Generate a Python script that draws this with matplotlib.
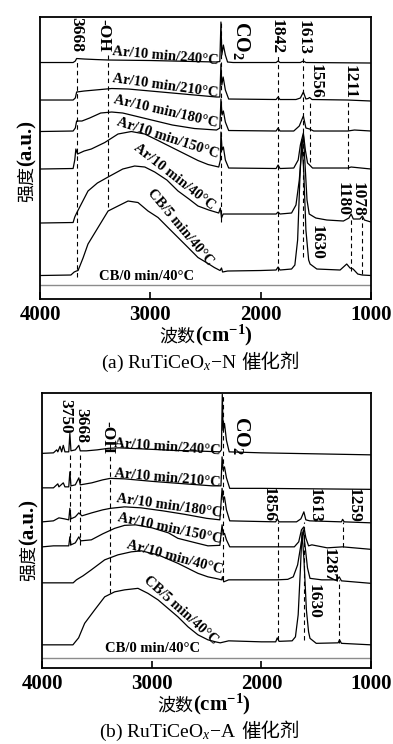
import matplotlib
matplotlib.use("Agg")
import matplotlib.pyplot as plt

plt.rcParams['font.family'] = ['Liberation Serif', 'Noto Sans CJK SC']
plt.rcParams['mathtext.fontset'] = 'custom'
plt.rcParams['mathtext.rm'] = 'Liberation Serif'
plt.rcParams['mathtext.it'] = 'Liberation Serif:italic'
plt.rcParams['mathtext.bf'] = 'Liberation Serif:bold'

# ---------- (a) RuTiCeOx-N : stacked DRIFT spectra (a.u., offset) ----------
a240_wn = [4000, 3700, 3680, 3668, 3600, 3500, 3380, 3000, 2600, 2400, 2370, 2360, 2352, 2338, 2320,
           2300, 2250, 1860, 1842, 1825, 1640, 1613, 1590, 1000]
a240_y = [236.5, 236.5, 238, 240.5, 240, 239.5, 239, 238.5, 237.5, 237, 237.5, 277, 244, 254, 244,
          237, 236.5, 236.5, 238, 236.5, 236.5, 238, 236.5, 236]

a210_wn = [4000, 3700, 3680, 3668, 3600, 3450, 3350, 3200, 3000, 2700, 2400, 2370, 2360, 2352, 2340,
           2320, 2290, 1860, 1842, 1825, 1680, 1640, 1613, 1590, 1570, 1556, 1535, 1211, 1000]
a210_y = [199, 199, 201, 207, 208, 209.5, 210.5, 210, 208, 205, 202, 202, 235, 214, 222,
          209, 200, 199.5, 202, 199.5, 199.5, 201, 207, 200, 200.5, 201.5, 199.5, 199, 198]

a180_wn = [4000, 3700, 3680, 3668, 3620, 3550, 3450, 3350, 3250, 3100, 2950, 2800, 2600, 2400, 2370,
           2360, 2350, 2338, 2320, 2290, 1860, 1842, 1825, 1700, 1650, 1613, 1590, 1556, 1520, 1211,
           1150, 1000]
a180_y = [167.5, 168, 171, 178, 178, 181, 186, 187, 186, 182, 178, 174, 170.5, 169, 171,
          200, 184, 188, 177, 168.5, 168, 171, 168, 168, 173, 183, 171, 170, 168, 168,
          169, 168]

a150_wn = [4000, 3700, 3685, 3675, 3660, 3600, 3535, 3413, 3293, 3172, 3051, 2930, 2749, 2568, 2477,
           2380, 2365, 2360, 2350, 2338, 2320, 2290, 1860, 1842, 1825, 1700, 1660, 1640, 1613, 1595,
           1575, 1556, 1530, 1211, 1180, 1000]
a150_y = [130, 130.5, 139, 150, 145, 148, 150, 156.5, 165, 167.5, 165, 158.5, 148.5, 138.5, 134.5,
          132, 139, 167, 149, 152, 139, 131, 130.5, 134, 130.5, 131, 139, 154, 166, 149,
          136, 134, 131, 131, 132, 130]

a40_wn = [4000, 3700, 3685, 3668, 3565, 3480, 3383, 3250, 3142, 3050, 2960, 2850, 2749, 2650, 2568,
          2470, 2380, 2365, 2355, 2340, 2300, 1860, 1842, 1825, 1720, 1680, 1650, 1625, 1613, 1600,
          1580, 1560, 1500, 1400, 1250, 1200, 1180, 1160, 1100, 1078, 1060, 1000]
a40_y = [76, 76.5, 82, 86, 108, 116, 122, 130, 133, 132, 127, 119, 108, 100, 93,
         89, 86, 91, 81, 85, 85, 85, 87, 85, 86, 94, 119, 154, 164, 139,
         99, 85, 81, 79, 78, 81, 85, 80, 80, 83, 79, 77]

acb5_wn = [4000, 3720, 3690, 3670, 3655, 3610, 3565, 3474, 3383, 3293, 3202, 3112, 3021, 2930, 2840,
           2749, 2658, 2568, 2477, 2420, 2368, 2355, 2345, 2300, 2000, 1860, 1842, 1825, 1720, 1690,
           1665, 1645, 1628, 1610, 1590, 1565, 1552, 1491, 1280, 1240, 1220, 1190, 1162, 1120, 1080,
           1000]
acb5_y = [23.5, 24, 27, 28, 28.5, 41, 55, 71.5, 88, 93, 98, 96.5, 88, 81.5, 71.5,
          61.5, 51.5, 41.5, 35.5, 31.5, 28.5, 31, 27, 28, 28.5, 29, 32, 29, 30, 34,
          59, 119, 159, 129, 69, 39, 35, 30, 29, 33, 35, 31, 30, 25, 24,
          23.5]

acb0_wn = [4000, 1000]
acb0_y = [14, 14]

a_names = ["Ar/10 min/240°C", "Ar/10 min/210°C", "Ar/10 min/180°C", "Ar/10 min/150°C",
           "Ar/10 min/40°C", "CB/5 min/40°C", "CB/0 min/40°C"]
a_peaks = ["3668", "-OH", r"CO$_\mathbf{2}$", "1842", "1613", "1556", "1211", "1180", "1078", "1630"]
a_dash_wn = [3668, 3383, 2359, 1842, 1613, 1556, 1211, 1180, 1078]

# ---------- (b) RuTiCeOx-A ----------
b240_wn = [4000, 3900, 3870, 3860, 3840, 3825, 3810, 3795, 3760, 3750, 3740, 3700, 3668, 3655, 3600,
           3500, 3400, 3300, 3100, 2800, 2500, 2380, 2366, 2358, 2350, 2338, 2320, 2295, 2000, 1500,
           1000]
b240_y = [215, 215.5, 218.5, 216.5, 222, 216.5, 223, 216.5, 216.5, 235, 217.5, 218.5, 223, 217.5, 217.5,
          218.5, 220, 220.5, 219.5, 218, 217, 216.5, 218.5, 274, 238, 245, 228, 216.5, 215.5, 214.5,
          213.5]

b210_wn = [4000, 3900, 3860, 3850, 3810, 3795, 3760, 3750, 3740, 3700, 3668, 3655, 3550, 3450, 3380,
           3250, 3000, 2700, 2450, 2370, 2360, 2350, 2338, 2320, 2290, 2000, 1000]
b210_y = [180.5, 180.5, 184.5, 181.5, 185.5, 181.5, 181.5, 196.5, 182.5, 183.5, 190.5, 183.5, 185.5, 188.5, 190,
          189.5, 187, 184.5, 182.5, 182.5, 211.5, 198.5, 201.5, 190.5, 180, 180, 179]

b180_wn = [4000, 3900, 3850, 3800, 3760, 3750, 3740, 3700, 3668, 3640, 3550, 3450, 3380, 3250, 3100,
           2900, 2700, 2500, 2380, 2360, 2350, 2338, 2320, 2290, 1870, 1856, 1840, 1680, 1640, 1613,
           1595, 1560, 1270, 1259, 1245, 1000]
b180_y = [146.5, 147.5, 150.5, 149.5, 148.5, 160, 149.5, 151.5, 155.5, 152.5, 155.5, 158.5, 160, 161.5, 160.5,
          157.5, 154, 150, 148.5, 180, 168.5, 171.5, 158.5, 147.5, 146.5, 149.5, 146.5, 146.5, 149.5, 156.5,
          148.5, 147.5, 146.5, 149, 146.5, 145.5]

b150_wn = [4000, 3900, 3760, 3750, 3740, 3700, 3668, 3650, 3554, 3450, 3341, 3250, 3150, 3000, 2850,
           2763, 2600, 2489, 2380, 2360, 2350, 2338, 2320, 2290, 1860, 1700, 1660, 1635, 1613, 1595,
           1570, 1540, 1400, 1259, 1000]
b150_y = [121.5, 122.5, 122.5, 131.5, 123.5, 125.5, 131.5, 127.5, 128.5, 134.5, 140, 143, 143.5, 140.5, 135.5,
          130, 125.5, 122.5, 123, 143.5, 133.5, 135, 128.5, 121.5, 121.5, 121.5, 126.5, 138.5, 141.5, 130.5,
          122.5, 123.5, 120.5, 121.5, 119]

b40_wn = [4000, 3720, 3690, 3668, 3630, 3554, 3432, 3311, 3189, 3098, 2945, 2763, 2580, 2489, 2400,
          2364, 2356, 2345, 2300, 1860, 1760, 1710, 1670, 1640, 1618, 1600, 1580, 1557, 1450, 1310,
          1290, 1270, 1000]
b40_y = [85.5, 85.5, 88.5, 90, 92.5, 98.5, 108.5, 113.5, 116.5, 117.5, 113.5, 105, 95, 91.5, 89.5,
         88.5, 91.5, 86.5, 88.5, 88.5, 89, 91.5, 103.5, 123.5, 138.5, 120.5, 100.5, 90, 88.5, 88.5,
         91.5, 87.5, 85]

bcb5_wn = [4000, 3722, 3700, 3670, 3615, 3523, 3432, 3341, 3249, 3128, 3037, 2945, 2854, 2763, 2671,
           2580, 2489, 2420, 2377, 2300, 2000, 1870, 1856, 1840, 1720, 1690, 1665, 1645, 1630, 1612,
           1590, 1570, 1557, 1500, 1300, 1287, 1270, 1000]
bcb5_y = [23.5, 23.5, 26.5, 30.5, 45, 58.5, 71.5, 76.5, 78.5, 80, 75, 68.5, 60, 51.5, 41.5,
          33.5, 28.5, 26.5, 25.5, 27.5, 26.5, 26.5, 30.5, 27, 27.5, 31.5, 53.5, 98.5, 136, 108.5,
          58.5, 36.5, 30, 25, 25.5, 28.5, 25, 23.5]

bcb0_wn = [4000, 1000]
bcb0_y = [10, 10]

b_names = a_names
b_peaks = ["3750", "3668", "-OH", r"CO$_\mathbf{2}$", "1856", "1613", "1259", "1287", "1630"]
b_dash_wn = [3746, 3660, 3386, 2349, 1852, 1613, 1253, 1290]

xticks = [4000, 3000, 2000, 1000]
captions = [r"(a) RuTiCeO$_{x}$−N", r"(b) RuTiCeO$_{x}$−A"]
caption_cn = "催化剂"

fig = plt.figure(figsize=(3.93, 7.44), dpi=100)
ax_a = fig.add_axes([0.1018, 0.5981, 0.8422, 0.3797])
ax_b = fig.add_axes([0.1081, 0.1017, 0.8359, 0.3704])

bold = dict(fontweight='bold', family='Liberation Serif')


def setup(ax, ytop, ylab_pos, xlab_pos):
    ax.set_xlim(4000, 1000)
    ax.set_ylim(0, ytop)
    ax.set_yticks([])
    ax.set_xticks(xticks)
    ax.set_xticklabels([str(t) for t in xticks], fontsize=15, fontweight='bold')
    ax.tick_params(axis='x', direction='in', length=5, width=1.2, pad=4)
    for s in ax.spines.values():
        s.set_linewidth(1.3)
    # y label: Chinese part regular, latin part bold
    ax.text(ylab_pos[0], ylab_pos[1], "强度", transform=ax.transAxes, rotation=90,
            rotation_mode='anchor', ha='right', va='baseline', fontsize=13,
            family='Noto Sans CJK SC')
    ax.text(ylab_pos[0], ylab_pos[1], "(a.u.)", transform=ax.transAxes, rotation=90,
            rotation_mode='anchor', ha='left', va='baseline', fontsize=15, **bold)
    ax.text(xlab_pos[0], xlab_pos[1], "波数", transform=ax.transAxes, ha='right',
            va='baseline', fontsize=13, family='Noto Sans CJK SC')
    ax.text(xlab_pos[0], xlab_pos[1], r"(cm$^{\mathbf{-1}}$)", transform=ax.transAxes,
            ha='left', va='baseline', fontsize=15, **bold)


def dashes(ax, wns, tops, bots):
    for w, t, b in zip(wns, tops, bots):
        ax.plot([w, w], [b, t], color='black', lw=0.8, ls=(0, (4, 3)))


# ---- panel (a)
setup(ax_a, 282.5, (-0.024, 0.471), (0.468, -0.149))
for wn, y in [(a240_wn, a240_y), (a210_wn, a210_y), (a180_wn, a180_y), (a150_wn, a150_y),
              (a40_wn, a40_y), (acb5_wn, acb5_y)]:
    ax_a.plot(wn, y, color='black', lw=0.9)
ax_a.plot(acb0_wn, acb0_y, color='#8c8c8c', lw=1.0)
dashes(ax_a, a_dash_wn, [238, 244, 279, 243, 244, 199, 199, 82, 82],
       [22, 92, 77, 28, 42, 137, 130, 28, 25])

a_lab_pos = [(2867, 243, -5), (2867, 213, -8), (2858, 187, -13), (2840, 161, -18),
             (2785, 122, -38), (2731, 72, -50), (3030, 23, 0)]
for name, (x, y, r) in zip(a_names, a_lab_pos):
    ax_a.text(x, y, name, rotation=r, ha='center', va='center', fontsize=10.5, **bold)

a_peak_pos = [(3674, 264), (3429, 264), (2170, 259), (1852, 262), (1610, 262), (1498, 218),
              (1190, 217), (1258, 100), (1122, 100), (1489, 57)]
for name, (x, y) in zip(a_peaks, a_peak_pos):
    fs = 14.5 if 'CO' in name else 12.5
    ax_a.text(x, y, name, rotation=270, ha='center', va='center', fontsize=fs, **bold)

# ---- panel (b)
setup(ax_b, 275.6, (-0.026, 0.447), (0.458, -0.154))
for wn, y in [(b240_wn, b240_y), (b210_wn, b210_y), (b180_wn, b180_y), (b150_wn, b150_y),
              (b40_wn, b40_y), (bcb5_wn, bcb5_y)]:
    ax_b.plot(wn, y, color='black', lw=0.9)
ax_b.plot(bcb0_wn, bcb0_y, color='#8c8c8c', lw=1.0)
dashes(ax_b, b_dash_wn, [215, 215, 213, 273, 146, 146, 146, 88],
       [123, 123, 75, 88, 28, 28, 121, 25])

b_lab_pos = [(2863, 221, -4), (2863, 190, -5), (2845, 162, -8), (2836, 140, -12),
             (2790, 111, -15), (2735, 58, -42), (2991, 20, 0)]
for name, (x, y, r) in zip(b_names, b_lab_pos):
    ax_b.text(x, y, name, rotation=r, ha='center', va='center', fontsize=10.5, **bold)

b_peak_pos = [(3795, 252), (3648, 243), (3411, 231), (2183, 233), (1938, 164), (1511, 163),
              (1162, 163), (1384, 103), (1527, 67)]
for name, (x, y) in zip(b_peaks, b_peak_pos):
    fs = 14.5 if 'CO' in name else 12.5
    ax_b.text(x, y, name, rotation=270, ha='center', va='center', fontsize=fs, **bold)

# ---- captions (latin part ends left of the Chinese part, small gap between)
for cap, cy in zip(captions, [0.5054, 0.0095]):
    fig.text(0.601, cy, cap, ha='right', va='baseline', fontsize=14, family='Liberation Serif')
    fig.text(0.615, cy, caption_cn, ha='left', va='baseline', fontsize=14, family='Noto Sans CJK SC')

fig.savefig("out.png", dpi=100)
